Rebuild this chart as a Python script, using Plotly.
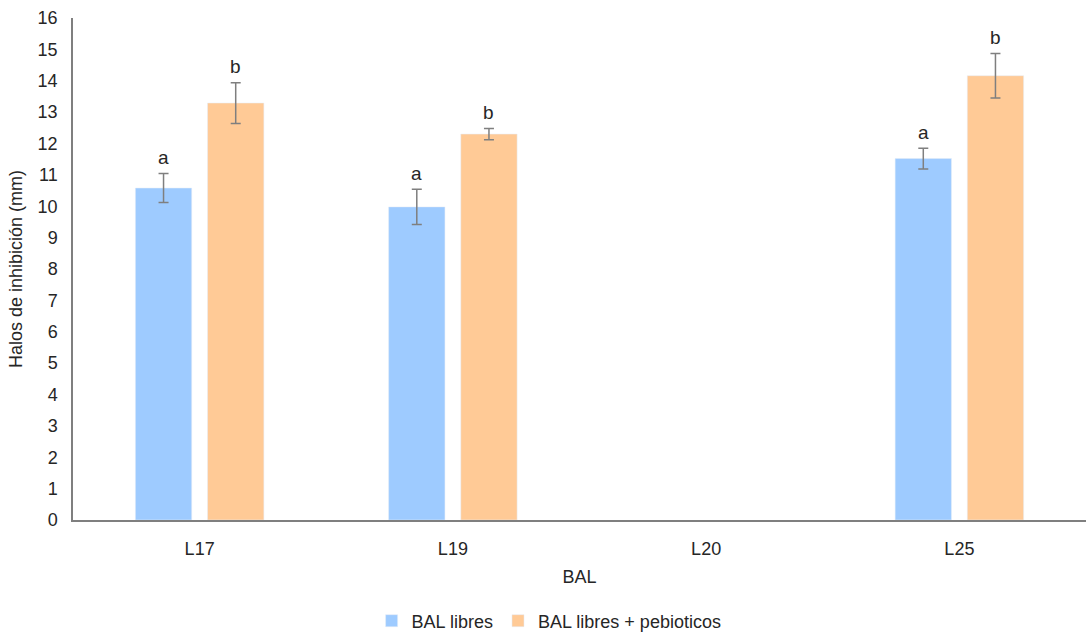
import plotly.graph_objects as go

categories = ["L17", "L19", "L20", "L25"]
libres = [10.58, 9.98, None, 11.52]
libres_err = [0.46, 0.56, None, 0.33]
prebio = [13.29, 12.30, None, 14.16]
prebio_err = [0.65, 0.18, None, 0.71]
libres_letters = ["a", "a", "", "a"]
prebio_letters = ["b", "b", "", "b"]

blue = "#9ECBFF"
orange = "#FFCA96"
font = "Liberation Sans, Arial, sans-serif"

fig = go.Figure()
fig.add_trace(go.Bar(
    x=categories, y=libres, name="BAL libres", marker_color=blue,
    error_y=dict(type="data", array=libres_err, color="#7f7f7f", thickness=1.5, width=5),
    offsetgroup="1",
))
fig.add_trace(go.Bar(
    x=categories, y=prebio, name="BAL libres + pebioticos", marker_color=orange,
    error_y=dict(type="data", array=prebio_err, color="#7f7f7f", thickness=1.5, width=5),
    offsetgroup="2",
))

ann = []
for i, c in enumerate(categories):
    if libres[i] is not None:
        ann.append(dict(x=c, y=libres[i] + libres_err[i], text=libres_letters[i], xshift=-36,
                        yshift=16, showarrow=False, font=dict(size=19, color="#262626", family=font)))
    if prebio[i] is not None:
        ann.append(dict(x=c, y=prebio[i] + prebio_err[i], text=prebio_letters[i], xshift=36,
                        yshift=16, showarrow=False, font=dict(size=19, color="#262626", family=font)))

fig.update_layout(
    width=1086, height=633,
    margin=dict(l=73, r=0, t=18, b=113, autoexpand=False),
    plot_bgcolor="white", paper_bgcolor="white",
    barmode="group", bargap=0.43, bargroupgap=0.22,
    font=dict(family=font, size=18, color="#262626"),
    annotations=ann,
    showlegend=True,
    legend=dict(orientation="h", x=0.47, xanchor="center", yref="container", y=0.019,
                yanchor="middle", font=dict(size=18, color="#262626"), traceorder="normal"),
    xaxis=dict(showline=True, linecolor="#7f7f7f", linewidth=1.5, ticks="", automargin=False,
               ticklabelstandoff=12,
               title=dict(text="BAL", font=dict(size=18), standoff=12),
               tickfont=dict(size=18)),
    yaxis=dict(range=[0, 16], dtick=1, showgrid=False, showline=True, linecolor="#7f7f7f",
               linewidth=1.5, ticks="", zeroline=False, ticklabelstandoff=10, automargin=False,
               title=dict(text="Halos de inhibición (mm)", font=dict(size=18), standoff=10),
               tickfont=dict(size=18)),
)

fig.write_html("out.html")
